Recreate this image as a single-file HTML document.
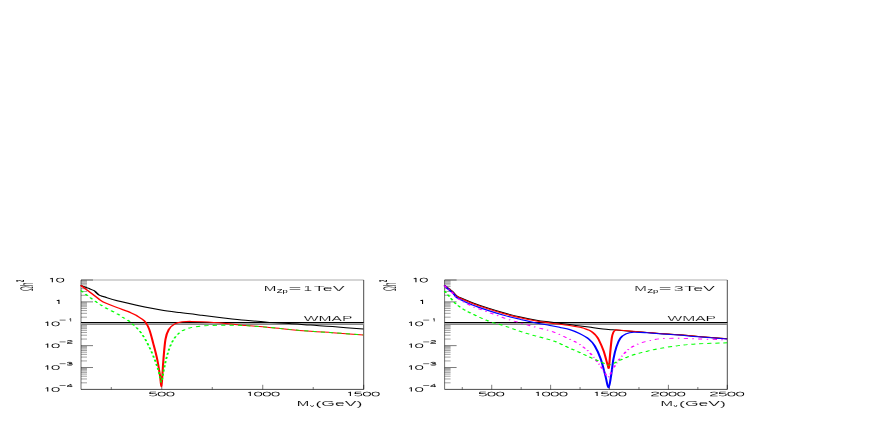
<!DOCTYPE html>
<html><head><meta charset="utf-8"><title>plot</title>
<style>html,body{margin:0;padding:0;background:#fff;}body{width:872px;height:436px;overflow:hidden;position:relative;font-family:"Liberation Sans",sans-serif;}</style></head>
<body>
<svg width="872" height="436" viewBox="0 0 872 436" style="position:absolute;left:0;top:0">
<rect width="872" height="436" fill="#fff"/>
<g transform="scale(1,0.5)" font-family="Liberation Sans, sans-serif" fill="#222">
<line x1="81.00" y1="560.00" x2="93.00" y2="560.00" stroke="#000" stroke-width="0.7"/>
<line x1="81.00" y1="590.59" x2="87.00" y2="590.59" stroke="#000" stroke-width="0.5"/>
<line x1="81.00" y1="582.88" x2="87.00" y2="582.88" stroke="#000" stroke-width="0.5"/>
<line x1="81.00" y1="577.41" x2="87.00" y2="577.41" stroke="#000" stroke-width="0.5"/>
<line x1="81.00" y1="573.17" x2="87.00" y2="573.17" stroke="#000" stroke-width="0.5"/>
<line x1="81.00" y1="569.71" x2="87.00" y2="569.71" stroke="#000" stroke-width="0.5"/>
<line x1="81.00" y1="566.78" x2="87.00" y2="566.78" stroke="#000" stroke-width="0.5"/>
<line x1="81.00" y1="564.24" x2="87.00" y2="564.24" stroke="#000" stroke-width="0.5"/>
<line x1="81.00" y1="562.00" x2="87.00" y2="562.00" stroke="#000" stroke-width="0.5"/>
<line x1="81.00" y1="603.76" x2="93.00" y2="603.76" stroke="#000" stroke-width="0.7"/>
<line x1="81.00" y1="634.35" x2="87.00" y2="634.35" stroke="#000" stroke-width="0.5"/>
<line x1="81.00" y1="626.64" x2="87.00" y2="626.64" stroke="#000" stroke-width="0.5"/>
<line x1="81.00" y1="621.17" x2="87.00" y2="621.17" stroke="#000" stroke-width="0.5"/>
<line x1="81.00" y1="616.93" x2="87.00" y2="616.93" stroke="#000" stroke-width="0.5"/>
<line x1="81.00" y1="613.47" x2="87.00" y2="613.47" stroke="#000" stroke-width="0.5"/>
<line x1="81.00" y1="610.54" x2="87.00" y2="610.54" stroke="#000" stroke-width="0.5"/>
<line x1="81.00" y1="608.00" x2="87.00" y2="608.00" stroke="#000" stroke-width="0.5"/>
<line x1="81.00" y1="605.76" x2="87.00" y2="605.76" stroke="#000" stroke-width="0.5"/>
<line x1="81.00" y1="647.52" x2="93.00" y2="647.52" stroke="#000" stroke-width="0.7"/>
<line x1="81.00" y1="678.11" x2="87.00" y2="678.11" stroke="#000" stroke-width="0.5"/>
<line x1="81.00" y1="670.40" x2="87.00" y2="670.40" stroke="#000" stroke-width="0.5"/>
<line x1="81.00" y1="664.93" x2="87.00" y2="664.93" stroke="#000" stroke-width="0.5"/>
<line x1="81.00" y1="660.69" x2="87.00" y2="660.69" stroke="#000" stroke-width="0.5"/>
<line x1="81.00" y1="657.23" x2="87.00" y2="657.23" stroke="#000" stroke-width="0.5"/>
<line x1="81.00" y1="654.30" x2="87.00" y2="654.30" stroke="#000" stroke-width="0.5"/>
<line x1="81.00" y1="651.76" x2="87.00" y2="651.76" stroke="#000" stroke-width="0.5"/>
<line x1="81.00" y1="649.52" x2="87.00" y2="649.52" stroke="#000" stroke-width="0.5"/>
<line x1="81.00" y1="691.28" x2="93.00" y2="691.28" stroke="#000" stroke-width="0.7"/>
<line x1="81.00" y1="721.87" x2="87.00" y2="721.87" stroke="#000" stroke-width="0.5"/>
<line x1="81.00" y1="714.16" x2="87.00" y2="714.16" stroke="#000" stroke-width="0.5"/>
<line x1="81.00" y1="708.69" x2="87.00" y2="708.69" stroke="#000" stroke-width="0.5"/>
<line x1="81.00" y1="704.45" x2="87.00" y2="704.45" stroke="#000" stroke-width="0.5"/>
<line x1="81.00" y1="700.99" x2="87.00" y2="700.99" stroke="#000" stroke-width="0.5"/>
<line x1="81.00" y1="698.06" x2="87.00" y2="698.06" stroke="#000" stroke-width="0.5"/>
<line x1="81.00" y1="695.52" x2="87.00" y2="695.52" stroke="#000" stroke-width="0.5"/>
<line x1="81.00" y1="693.28" x2="87.00" y2="693.28" stroke="#000" stroke-width="0.5"/>
<line x1="81.00" y1="735.04" x2="93.00" y2="735.04" stroke="#000" stroke-width="0.7"/>
<line x1="81.00" y1="765.63" x2="87.00" y2="765.63" stroke="#000" stroke-width="0.5"/>
<line x1="81.00" y1="757.92" x2="87.00" y2="757.92" stroke="#000" stroke-width="0.5"/>
<line x1="81.00" y1="752.45" x2="87.00" y2="752.45" stroke="#000" stroke-width="0.5"/>
<line x1="81.00" y1="748.21" x2="87.00" y2="748.21" stroke="#000" stroke-width="0.5"/>
<line x1="81.00" y1="744.75" x2="87.00" y2="744.75" stroke="#000" stroke-width="0.5"/>
<line x1="81.00" y1="741.82" x2="87.00" y2="741.82" stroke="#000" stroke-width="0.5"/>
<line x1="81.00" y1="739.28" x2="87.00" y2="739.28" stroke="#000" stroke-width="0.5"/>
<line x1="81.00" y1="737.04" x2="87.00" y2="737.04" stroke="#000" stroke-width="0.5"/>
<line x1="111.29" y1="778.80" x2="111.29" y2="774.00" stroke="#000" stroke-width="0.7"/>
<line x1="161.77" y1="778.80" x2="161.77" y2="769.60" stroke="#000" stroke-width="0.7"/>
<line x1="212.25" y1="778.80" x2="212.25" y2="774.00" stroke="#000" stroke-width="0.7"/>
<line x1="262.74" y1="778.80" x2="262.74" y2="769.60" stroke="#000" stroke-width="0.7"/>
<line x1="313.22" y1="778.80" x2="313.22" y2="774.00" stroke="#000" stroke-width="0.7"/>
<line x1="363.70" y1="778.80" x2="363.70" y2="769.60" stroke="#000" stroke-width="0.7"/>
<line x1="81.00" y1="560.00" x2="363.70" y2="560.00" stroke="#000" stroke-width="0.45"/>
<line x1="81.00" y1="778.80" x2="363.70" y2="778.80" stroke="#000" stroke-width="0.95"/>
<line x1="81.00" y1="560.00" x2="81.00" y2="778.80" stroke="#000" stroke-width="0.75"/>
<line x1="363.70" y1="560.00" x2="363.70" y2="778.80" stroke="#000" stroke-width="0.95"/>
<line x1="444.60" y1="560.00" x2="456.60" y2="560.00" stroke="#000" stroke-width="0.7"/>
<line x1="444.60" y1="590.59" x2="450.60" y2="590.59" stroke="#000" stroke-width="0.5"/>
<line x1="444.60" y1="582.88" x2="450.60" y2="582.88" stroke="#000" stroke-width="0.5"/>
<line x1="444.60" y1="577.41" x2="450.60" y2="577.41" stroke="#000" stroke-width="0.5"/>
<line x1="444.60" y1="573.17" x2="450.60" y2="573.17" stroke="#000" stroke-width="0.5"/>
<line x1="444.60" y1="569.71" x2="450.60" y2="569.71" stroke="#000" stroke-width="0.5"/>
<line x1="444.60" y1="566.78" x2="450.60" y2="566.78" stroke="#000" stroke-width="0.5"/>
<line x1="444.60" y1="564.24" x2="450.60" y2="564.24" stroke="#000" stroke-width="0.5"/>
<line x1="444.60" y1="562.00" x2="450.60" y2="562.00" stroke="#000" stroke-width="0.5"/>
<line x1="444.60" y1="603.76" x2="456.60" y2="603.76" stroke="#000" stroke-width="0.7"/>
<line x1="444.60" y1="634.35" x2="450.60" y2="634.35" stroke="#000" stroke-width="0.5"/>
<line x1="444.60" y1="626.64" x2="450.60" y2="626.64" stroke="#000" stroke-width="0.5"/>
<line x1="444.60" y1="621.17" x2="450.60" y2="621.17" stroke="#000" stroke-width="0.5"/>
<line x1="444.60" y1="616.93" x2="450.60" y2="616.93" stroke="#000" stroke-width="0.5"/>
<line x1="444.60" y1="613.47" x2="450.60" y2="613.47" stroke="#000" stroke-width="0.5"/>
<line x1="444.60" y1="610.54" x2="450.60" y2="610.54" stroke="#000" stroke-width="0.5"/>
<line x1="444.60" y1="608.00" x2="450.60" y2="608.00" stroke="#000" stroke-width="0.5"/>
<line x1="444.60" y1="605.76" x2="450.60" y2="605.76" stroke="#000" stroke-width="0.5"/>
<line x1="444.60" y1="647.52" x2="456.60" y2="647.52" stroke="#000" stroke-width="0.7"/>
<line x1="444.60" y1="678.11" x2="450.60" y2="678.11" stroke="#000" stroke-width="0.5"/>
<line x1="444.60" y1="670.40" x2="450.60" y2="670.40" stroke="#000" stroke-width="0.5"/>
<line x1="444.60" y1="664.93" x2="450.60" y2="664.93" stroke="#000" stroke-width="0.5"/>
<line x1="444.60" y1="660.69" x2="450.60" y2="660.69" stroke="#000" stroke-width="0.5"/>
<line x1="444.60" y1="657.23" x2="450.60" y2="657.23" stroke="#000" stroke-width="0.5"/>
<line x1="444.60" y1="654.30" x2="450.60" y2="654.30" stroke="#000" stroke-width="0.5"/>
<line x1="444.60" y1="651.76" x2="450.60" y2="651.76" stroke="#000" stroke-width="0.5"/>
<line x1="444.60" y1="649.52" x2="450.60" y2="649.52" stroke="#000" stroke-width="0.5"/>
<line x1="444.60" y1="691.28" x2="456.60" y2="691.28" stroke="#000" stroke-width="0.7"/>
<line x1="444.60" y1="721.87" x2="450.60" y2="721.87" stroke="#000" stroke-width="0.5"/>
<line x1="444.60" y1="714.16" x2="450.60" y2="714.16" stroke="#000" stroke-width="0.5"/>
<line x1="444.60" y1="708.69" x2="450.60" y2="708.69" stroke="#000" stroke-width="0.5"/>
<line x1="444.60" y1="704.45" x2="450.60" y2="704.45" stroke="#000" stroke-width="0.5"/>
<line x1="444.60" y1="700.99" x2="450.60" y2="700.99" stroke="#000" stroke-width="0.5"/>
<line x1="444.60" y1="698.06" x2="450.60" y2="698.06" stroke="#000" stroke-width="0.5"/>
<line x1="444.60" y1="695.52" x2="450.60" y2="695.52" stroke="#000" stroke-width="0.5"/>
<line x1="444.60" y1="693.28" x2="450.60" y2="693.28" stroke="#000" stroke-width="0.5"/>
<line x1="444.60" y1="735.04" x2="456.60" y2="735.04" stroke="#000" stroke-width="0.7"/>
<line x1="444.60" y1="765.63" x2="450.60" y2="765.63" stroke="#000" stroke-width="0.5"/>
<line x1="444.60" y1="757.92" x2="450.60" y2="757.92" stroke="#000" stroke-width="0.5"/>
<line x1="444.60" y1="752.45" x2="450.60" y2="752.45" stroke="#000" stroke-width="0.5"/>
<line x1="444.60" y1="748.21" x2="450.60" y2="748.21" stroke="#000" stroke-width="0.5"/>
<line x1="444.60" y1="744.75" x2="450.60" y2="744.75" stroke="#000" stroke-width="0.5"/>
<line x1="444.60" y1="741.82" x2="450.60" y2="741.82" stroke="#000" stroke-width="0.5"/>
<line x1="444.60" y1="739.28" x2="450.60" y2="739.28" stroke="#000" stroke-width="0.5"/>
<line x1="444.60" y1="737.04" x2="450.60" y2="737.04" stroke="#000" stroke-width="0.5"/>
<line x1="462.27" y1="778.80" x2="462.27" y2="774.00" stroke="#000" stroke-width="0.7"/>
<line x1="491.72" y1="778.80" x2="491.72" y2="769.60" stroke="#000" stroke-width="0.7"/>
<line x1="521.16" y1="778.80" x2="521.16" y2="774.00" stroke="#000" stroke-width="0.7"/>
<line x1="550.61" y1="778.80" x2="550.61" y2="769.60" stroke="#000" stroke-width="0.7"/>
<line x1="580.06" y1="778.80" x2="580.06" y2="774.00" stroke="#000" stroke-width="0.7"/>
<line x1="609.51" y1="778.80" x2="609.51" y2="769.60" stroke="#000" stroke-width="0.7"/>
<line x1="638.96" y1="778.80" x2="638.96" y2="774.00" stroke="#000" stroke-width="0.7"/>
<line x1="668.40" y1="778.80" x2="668.40" y2="769.60" stroke="#000" stroke-width="0.7"/>
<line x1="697.85" y1="778.80" x2="697.85" y2="774.00" stroke="#000" stroke-width="0.7"/>
<line x1="727.30" y1="778.80" x2="727.30" y2="769.60" stroke="#000" stroke-width="0.7"/>
<line x1="444.60" y1="560.00" x2="727.30" y2="560.00" stroke="#000" stroke-width="0.45"/>
<line x1="444.60" y1="778.80" x2="727.30" y2="778.80" stroke="#000" stroke-width="0.95"/>
<line x1="444.60" y1="560.00" x2="444.60" y2="778.80" stroke="#000" stroke-width="0.75"/>
<line x1="727.30" y1="560.00" x2="727.30" y2="778.80" stroke="#000" stroke-width="0.95"/>
<rect x="81.00" y="644.00" width="282.70" height="2.00" fill="#000"/>
<rect x="81.00" y="646.00" width="282.70" height="2.00" fill="#aaa"/>
<rect x="81.00" y="648.00" width="282.70" height="2.00" fill="#888"/>
<rect x="444.60" y="644.00" width="282.70" height="2.00" fill="#000"/>
<rect x="444.60" y="646.00" width="282.70" height="2.00" fill="#aaa"/>
<rect x="444.60" y="648.00" width="282.70" height="2.00" fill="#888"/>
<path d="M80.80,570.80 C82.00,571.73 85.82,574.70 88.00,576.40 C90.18,578.10 92.50,579.50 93.90,581.00 C95.30,582.50 95.62,584.00 96.40,585.40 C97.18,586.80 97.92,588.40 98.60,589.40 C99.28,590.40 99.60,590.70 100.50,591.40 C101.40,592.10 101.20,591.90 104.00,593.60 C106.80,595.30 110.50,598.20 117.30,601.60 C124.10,605.00 137.52,610.93 144.80,614.00 C152.08,617.07 155.13,618.13 161.00,620.00 C166.87,621.87 173.20,623.43 180.00,625.20 C186.80,626.97 194.53,628.83 201.80,630.60 C209.07,632.37 216.33,634.13 223.60,635.80 C230.87,637.47 238.13,639.17 245.40,640.60 C252.67,642.03 259.93,643.33 267.20,644.40 C274.47,645.47 281.73,646.03 289.00,647.00 C296.27,647.97 303.55,649.17 310.80,650.20 C318.05,651.23 323.73,651.90 332.50,653.20 C341.27,654.50 358.25,657.20 363.40,658.00" fill="none" stroke="#000" stroke-width="2.0" stroke-linejoin="round"/>
<path d="M80.80,570.80 C82.00,572.60 85.37,577.63 88.00,581.60 C90.63,585.57 94.58,591.53 96.60,594.60 C98.62,597.67 98.95,598.40 100.10,600.00 C101.25,601.60 102.23,602.90 103.50,604.20 C104.77,605.50 105.40,605.93 107.70,607.80 C110.00,609.67 113.42,612.43 117.30,615.40 C121.18,618.37 127.72,622.90 131.00,625.60 C134.28,628.30 135.25,629.60 137.00,631.60 C138.75,633.60 140.10,635.50 141.50,637.60 C142.90,639.70 144.10,640.63 145.40,644.20 C146.70,647.77 148.00,651.97 149.30,659.00 C150.60,666.03 151.90,676.63 153.20,686.40 C154.50,696.17 155.95,706.57 157.10,717.60 C158.25,728.63 159.38,743.27 160.10,752.60 C160.82,761.93 161.03,773.60 161.40,773.60 C161.77,773.60 161.95,761.93 162.30,752.60 C162.65,743.27 162.97,729.93 163.50,717.60 C164.03,705.27 164.62,688.37 165.50,678.60 C166.38,668.83 167.28,664.10 168.80,659.00 C170.32,653.90 172.33,650.57 174.60,648.00 C176.87,645.43 179.68,644.47 182.40,643.60 C185.12,642.73 187.67,642.80 190.90,642.80 C194.13,642.80 196.35,642.97 201.80,643.60 C207.25,644.23 216.33,645.37 223.60,646.60 C230.87,647.83 238.13,649.70 245.40,651.00 C252.67,652.30 259.93,653.10 267.20,654.40 C274.47,655.70 281.73,657.47 289.00,658.80 C296.27,660.13 303.55,661.30 310.80,662.40 C318.05,663.50 323.73,664.17 332.50,665.40 C341.27,666.63 358.25,669.07 363.40,669.80" fill="none" stroke="#ff0000" stroke-width="2.1" stroke-linejoin="round"/>
<path d="M80.80,581.20 C82.00,583.00 85.37,588.13 88.00,592.00 C90.63,595.87 93.77,600.57 96.60,604.40 C99.43,608.23 101.55,611.10 105.00,615.00 C108.45,618.90 114.47,624.70 117.30,627.80 C120.13,630.90 119.60,630.50 122.00,633.60 C124.40,636.70 128.45,640.87 131.70,646.40 C134.95,651.93 138.57,658.87 141.50,666.80 C144.43,674.73 147.03,684.90 149.30,694.00 C151.57,703.10 153.55,713.40 155.10,721.40 C156.65,729.40 157.75,736.23 158.60,742.00 C159.45,747.77 159.75,752.27 160.20,756.00 C160.65,759.73 160.93,764.40 161.30,764.40 C161.67,764.40 162.02,759.73 162.40,756.00 C162.78,752.27 162.87,749.07 163.60,742.00 C164.33,734.93 165.62,722.23 166.80,713.60 C167.98,704.97 169.07,697.33 170.70,690.20 C172.33,683.07 174.32,675.90 176.60,670.80 C178.88,665.70 181.48,662.40 184.40,659.60 C187.32,656.80 190.20,655.40 194.10,654.00 C198.00,652.60 202.88,651.77 207.80,651.20 C212.72,650.63 218.78,650.70 223.60,650.60 C228.42,650.50 233.07,650.50 236.70,650.60 C240.33,650.70 240.32,650.57 245.40,651.20 C250.48,651.83 259.93,653.13 267.20,654.40 C274.47,655.67 281.73,657.47 289.00,658.80 C296.27,660.13 303.55,661.30 310.80,662.40 C318.05,663.50 323.73,664.17 332.50,665.40 C341.27,666.63 358.25,669.07 363.40,669.80" fill="none" stroke="#00ff00" stroke-width="1.9" stroke-linejoin="round" stroke-dasharray="4.2 4.2"/>
<path d="M444.50,571.20 C445.25,572.33 447.60,575.83 449.00,578.00 C450.40,580.17 451.72,582.00 452.90,584.20 C454.08,586.40 454.92,589.37 456.10,591.20 C457.28,593.03 457.33,592.87 460.00,595.20 C462.67,597.53 467.40,601.67 472.10,605.20 C476.80,608.73 482.83,612.93 488.20,616.40 C493.57,619.87 498.95,623.07 504.30,626.00 C509.65,628.93 514.95,631.60 520.30,634.00 C525.65,636.40 531.45,638.70 536.40,640.40 C541.35,642.10 544.48,642.73 550.00,644.20 C555.52,645.67 563.00,647.53 569.50,649.20 C576.00,650.87 582.52,652.57 589.00,654.20 C595.48,655.83 603.87,658.00 608.40,659.00 C612.93,660.00 611.32,659.43 616.20,660.20 C621.08,660.97 630.57,662.50 637.70,663.60 C644.83,664.70 652.22,665.83 659.00,666.80 C665.78,667.77 671.90,668.40 678.40,669.40 C684.90,670.40 689.88,671.47 698.00,672.80 C706.12,674.13 722.25,676.63 727.10,677.40" fill="none" stroke="#000" stroke-width="2.0" stroke-linejoin="round"/>
<path d="M444.50,571.20 C445.25,572.43 447.60,576.33 449.00,578.60 C450.40,580.87 451.72,582.53 452.90,584.80 C454.08,587.07 454.92,590.27 456.10,592.20 C457.28,594.13 457.33,594.00 460.00,596.40 C462.67,598.80 467.40,603.03 472.10,606.60 C476.80,610.17 482.83,614.30 488.20,617.80 C493.57,621.30 498.95,624.63 504.30,627.60 C509.65,630.57 514.95,633.20 520.30,635.60 C525.65,638.00 531.45,640.30 536.40,642.00 C541.35,643.70 544.48,644.33 550.00,645.80 C555.52,647.27 564.50,649.37 569.50,650.80 C574.50,652.23 577.40,653.30 580.00,654.40 C582.60,655.50 583.52,656.33 585.10,657.40 C586.68,658.47 588.20,659.50 589.50,660.80 C590.80,662.10 591.82,663.47 592.90,665.20 C593.98,666.93 595.03,668.87 596.00,671.20 C596.97,673.53 597.43,674.10 598.70,679.20 C599.97,684.30 602.13,693.50 603.60,701.80 C605.07,710.10 606.62,723.43 607.50,729.00 C608.38,734.57 608.43,739.37 608.90,735.20 C609.37,731.03 609.82,713.87 610.30,704.00 C610.78,694.13 611.27,682.67 611.80,676.00 C612.33,669.33 612.88,666.60 613.50,664.00 C614.12,661.40 614.75,661.07 615.50,660.40 C616.25,659.73 614.30,659.47 618.00,660.00 C621.70,660.53 630.87,662.47 637.70,663.60 C644.53,664.73 652.22,665.83 659.00,666.80 C665.78,667.77 671.90,668.40 678.40,669.40 C684.90,670.40 689.88,671.47 698.00,672.80 C706.12,674.13 722.25,676.63 727.10,677.40" fill="none" stroke="#ff0000" stroke-width="2.1" stroke-linejoin="round"/>
<path d="M444.50,571.20 C445.25,572.60 447.60,577.13 449.00,579.60 C450.40,582.07 451.72,583.63 452.90,586.00 C454.08,588.37 454.92,591.70 456.10,593.80 C457.28,595.90 457.33,595.93 460.00,598.60 C462.67,601.27 467.40,606.07 472.10,609.80 C476.80,613.53 482.83,617.50 488.20,621.00 C493.57,624.50 498.95,627.83 504.30,630.80 C509.65,633.77 514.95,636.23 520.30,638.80 C525.65,641.37 531.45,644.20 536.40,646.20 C541.35,648.20 546.07,649.37 550.00,650.80 C553.93,652.23 556.75,653.43 560.00,654.80 C563.25,656.17 566.30,657.00 569.50,659.00 C572.70,661.00 575.95,663.57 579.20,666.80 C582.45,670.03 586.40,674.20 589.00,678.40 C591.60,682.60 592.87,685.50 594.80,692.00 C596.73,698.50 598.82,707.33 600.60,717.40 C602.38,727.47 604.18,742.63 605.50,752.40 C606.82,762.17 607.58,776.00 608.50,776.00 C609.42,776.00 610.17,762.17 611.00,752.40 C611.83,742.63 612.60,727.13 613.50,717.40 C614.40,707.67 615.27,700.80 616.40,694.00 C617.53,687.20 618.70,681.00 620.30,676.60 C621.90,672.20 623.75,669.63 626.00,667.60 C628.25,665.57 630.23,664.73 633.80,664.40 C637.37,664.07 643.20,665.07 647.40,665.60 C651.60,666.13 653.83,666.83 659.00,667.60 C664.17,668.37 671.90,669.20 678.40,670.20 C684.90,671.20 689.88,672.27 698.00,673.60 C706.12,674.93 722.25,677.43 727.10,678.20" fill="none" stroke="#0000ff" stroke-width="2.1" stroke-linejoin="round"/>
<path d="M444.50,571.20 C445.25,572.67 447.60,577.40 449.00,580.00 C450.40,582.60 451.72,584.40 452.90,586.80 C454.08,589.20 454.92,592.27 456.10,594.40 C457.28,596.53 457.33,596.60 460.00,599.60 C462.67,602.60 467.40,608.30 472.10,612.40 C476.80,616.50 482.83,620.23 488.20,624.20 C493.57,628.17 498.95,632.60 504.30,636.20 C509.65,639.80 514.95,642.70 520.30,645.80 C525.65,648.90 531.05,651.90 536.40,654.80 C541.75,657.70 546.88,659.27 552.40,663.20 C557.92,667.13 565.03,674.23 569.50,678.40 C573.97,682.57 575.95,683.97 579.20,688.20 C582.45,692.43 585.75,697.30 589.00,703.80 C592.25,710.30 596.12,720.40 598.70,727.20 C601.28,734.00 602.92,740.07 604.50,744.60 C606.08,749.13 606.90,755.03 608.20,754.40 C609.50,753.77 610.63,746.30 612.30,740.80 C613.97,735.30 615.60,728.23 618.20,721.40 C620.80,714.57 624.65,705.33 627.90,699.80 C631.15,694.27 634.45,691.10 637.70,688.20 C640.95,685.30 643.85,684.13 647.40,682.40 C650.95,680.67 653.83,678.77 659.00,677.80 C664.17,676.83 671.90,676.60 678.40,676.60 C684.90,676.60 689.88,677.27 698.00,677.80 C706.12,678.33 722.25,679.47 727.10,679.80" fill="none" stroke="#ff00ff" stroke-width="1.9" stroke-linejoin="round" stroke-dasharray="4.2 4.4 1.5 4.4"/>
<path d="M444.50,582.00 C445.35,583.97 447.67,589.43 449.60,593.80 C451.53,598.17 453.87,604.17 456.10,608.20 C458.33,612.23 460.33,614.77 463.00,618.00 C465.67,621.23 467.90,623.60 472.10,627.60 C476.30,631.60 482.83,638.00 488.20,642.00 C493.57,646.00 498.95,648.13 504.30,651.60 C509.65,655.07 514.95,659.33 520.30,662.80 C525.65,666.27 531.05,669.33 536.40,672.40 C541.75,675.47 546.88,677.27 552.40,681.20 C557.92,685.13 563.40,690.60 569.50,696.00 C575.60,701.40 584.13,709.27 589.00,713.60 C593.87,717.93 595.78,719.43 598.70,722.00 C601.62,724.57 604.85,727.63 606.50,729.00 C608.15,730.37 607.63,730.30 608.60,730.20 C609.57,730.10 610.70,729.77 612.30,728.40 C613.90,727.03 615.60,724.47 618.20,722.00 C620.80,719.53 624.65,716.07 627.90,713.60 C631.15,711.13 634.45,709.07 637.70,707.20 C640.95,705.33 643.85,704.07 647.40,702.40 C650.95,700.73 653.83,699.07 659.00,697.20 C664.17,695.33 671.90,692.77 678.40,691.20 C684.90,689.63 689.88,688.73 698.00,687.80 C706.12,686.87 722.25,685.97 727.10,685.60" fill="none" stroke="#00ff00" stroke-width="1.9" stroke-linejoin="round" stroke-dasharray="4.2 3.8"/>
</g>
<g transform="scale(1,0.5)" font-family="Liberation Sans, sans-serif" fill="#000" stroke="#fff" stroke-width="0.25" opacity="0.995" style="will-change:opacity">
<path d="M50.10,557.90 L52.34,556.10 L52.34,564.30" fill="none" stroke="#000" stroke-width="1.1" stroke-linejoin="round"/>
<path d="M60.20,556.10 C57.40,556.10 56.70,558.15 56.70,560.20 C56.70,562.25 57.40,564.30 60.20,564.30 C63.00,564.30 63.70,562.25 63.70,560.20 C63.70,558.15 63.00,556.10 60.20,556.10 Z" fill="none" stroke="#000" stroke-width="1.1" stroke-linejoin="round"/>
<path d="M56.70,601.66 L58.94,599.86 L58.94,608.06" fill="none" stroke="#000" stroke-width="1.1" stroke-linejoin="round"/>
<path d="M45.50,645.42 L47.74,643.62 L47.74,651.82" fill="none" stroke="#000" stroke-width="1.1" stroke-linejoin="round"/>
<path d="M55.60,643.62 C52.80,643.62 52.10,645.67 52.10,647.72 C52.10,649.77 52.80,651.82 55.60,651.82 C58.40,651.82 59.10,649.77 59.10,647.72 C59.10,645.67 58.40,643.62 55.60,643.62 Z" fill="none" stroke="#000" stroke-width="1.1" stroke-linejoin="round"/>
<path d="M59.60,640.12 L65.60,640.12" fill="none" stroke="#000" stroke-width="1.1" stroke-linejoin="round"/>
<path d="M69.44,638.40 L70.66,637.12 L70.66,642.92" fill="none" stroke="#000" stroke-width="1.0" stroke-linejoin="round"/>
<path d="M45.50,689.18 L47.74,687.38 L47.74,695.58" fill="none" stroke="#000" stroke-width="1.1" stroke-linejoin="round"/>
<path d="M55.60,687.38 C52.80,687.38 52.10,689.43 52.10,691.48 C52.10,693.53 52.80,695.58 55.60,695.58 C58.40,695.58 59.10,693.53 59.10,691.48 C59.10,689.43 58.40,687.38 55.60,687.38 Z" fill="none" stroke="#000" stroke-width="1.1" stroke-linejoin="round"/>
<path d="M59.60,683.88 L65.60,683.88" fill="none" stroke="#000" stroke-width="1.1" stroke-linejoin="round"/>
<path d="M67.11,682.33 C67.27,680.59 72.29,680.42 72.29,682.45 C72.29,684.07 67.00,684.48 67.00,686.68 L72.40,686.68" fill="none" stroke="#000" stroke-width="1.0" stroke-linejoin="round"/>
<path d="M45.50,732.94 L47.74,731.14 L47.74,739.34" fill="none" stroke="#000" stroke-width="1.1" stroke-linejoin="round"/>
<path d="M55.60,731.14 C52.80,731.14 52.10,733.19 52.10,735.24 C52.10,737.29 52.80,739.34 55.60,739.34 C58.40,739.34 59.10,737.29 59.10,735.24 C59.10,733.19 58.40,731.14 55.60,731.14 Z" fill="none" stroke="#000" stroke-width="1.1" stroke-linejoin="round"/>
<path d="M59.60,727.64 L65.60,727.64" fill="none" stroke="#000" stroke-width="1.1" stroke-linejoin="round"/>
<path d="M67.11,725.51 C68.08,724.29 72.24,724.29 72.24,726.09 C72.24,727.19 70.24,727.37 68.89,727.37 C70.24,727.37 72.40,727.54 72.40,728.93 C72.40,730.79 68.08,730.79 67.00,729.45" fill="none" stroke="#000" stroke-width="1.0" stroke-linejoin="round"/>
<path d="M45.50,776.70 L47.74,774.90 L47.74,783.10" fill="none" stroke="#000" stroke-width="1.1" stroke-linejoin="round"/>
<path d="M55.60,774.90 C52.80,774.90 52.10,776.95 52.10,779.00 C52.10,781.05 52.80,783.10 55.60,783.10 C58.40,783.10 59.10,781.05 59.10,779.00 C59.10,776.95 58.40,774.90 55.60,774.90 Z" fill="none" stroke="#000" stroke-width="1.1" stroke-linejoin="round"/>
<path d="M59.60,771.40 L65.60,771.40" fill="none" stroke="#000" stroke-width="1.1" stroke-linejoin="round"/>
<path d="M71.00,774.20 L71.00,768.40 L67.00,772.58 L72.40,772.58" fill="none" stroke="#000" stroke-width="1.0" stroke-linejoin="round"/>
<text transform="translate(32.70,582.00) rotate(-90)" font-size="17.9" textLength="17" lengthAdjust="spacingAndGlyphs">Ωh</text>
<text transform="translate(23.80,564.00) rotate(-90)" font-size="10" font-weight="bold" textLength="4.2" lengthAdjust="spacingAndGlyphs" stroke="none">2</text>
<text x="303.80" y="642.60" font-size="14.8" textLength="48.60" lengthAdjust="spacingAndGlyphs">WMAP</text>
<path d="M413.70,557.90 L415.94,556.10 L415.94,564.30" fill="none" stroke="#000" stroke-width="1.1" stroke-linejoin="round"/>
<path d="M423.80,556.10 C421.00,556.10 420.30,558.15 420.30,560.20 C420.30,562.25 421.00,564.30 423.80,564.30 C426.60,564.30 427.30,562.25 427.30,560.20 C427.30,558.15 426.60,556.10 423.80,556.10 Z" fill="none" stroke="#000" stroke-width="1.1" stroke-linejoin="round"/>
<path d="M420.30,601.66 L422.54,599.86 L422.54,608.06" fill="none" stroke="#000" stroke-width="1.1" stroke-linejoin="round"/>
<path d="M409.10,645.42 L411.34,643.62 L411.34,651.82" fill="none" stroke="#000" stroke-width="1.1" stroke-linejoin="round"/>
<path d="M419.20,643.62 C416.40,643.62 415.70,645.67 415.70,647.72 C415.70,649.77 416.40,651.82 419.20,651.82 C422.00,651.82 422.70,649.77 422.70,647.72 C422.70,645.67 422.00,643.62 419.20,643.62 Z" fill="none" stroke="#000" stroke-width="1.1" stroke-linejoin="round"/>
<path d="M423.20,640.12 L429.20,640.12" fill="none" stroke="#000" stroke-width="1.1" stroke-linejoin="round"/>
<path d="M433.04,638.40 L434.26,637.12 L434.26,642.92" fill="none" stroke="#000" stroke-width="1.0" stroke-linejoin="round"/>
<path d="M409.10,689.18 L411.34,687.38 L411.34,695.58" fill="none" stroke="#000" stroke-width="1.1" stroke-linejoin="round"/>
<path d="M419.20,687.38 C416.40,687.38 415.70,689.43 415.70,691.48 C415.70,693.53 416.40,695.58 419.20,695.58 C422.00,695.58 422.70,693.53 422.70,691.48 C422.70,689.43 422.00,687.38 419.20,687.38 Z" fill="none" stroke="#000" stroke-width="1.1" stroke-linejoin="round"/>
<path d="M423.20,683.88 L429.20,683.88" fill="none" stroke="#000" stroke-width="1.1" stroke-linejoin="round"/>
<path d="M430.71,682.33 C430.87,680.59 435.89,680.42 435.89,682.45 C435.89,684.07 430.60,684.48 430.60,686.68 L436.00,686.68" fill="none" stroke="#000" stroke-width="1.0" stroke-linejoin="round"/>
<path d="M409.10,732.94 L411.34,731.14 L411.34,739.34" fill="none" stroke="#000" stroke-width="1.1" stroke-linejoin="round"/>
<path d="M419.20,731.14 C416.40,731.14 415.70,733.19 415.70,735.24 C415.70,737.29 416.40,739.34 419.20,739.34 C422.00,739.34 422.70,737.29 422.70,735.24 C422.70,733.19 422.00,731.14 419.20,731.14 Z" fill="none" stroke="#000" stroke-width="1.1" stroke-linejoin="round"/>
<path d="M423.20,727.64 L429.20,727.64" fill="none" stroke="#000" stroke-width="1.1" stroke-linejoin="round"/>
<path d="M430.71,725.51 C431.68,724.29 435.84,724.29 435.84,726.09 C435.84,727.19 433.84,727.37 432.49,727.37 C433.84,727.37 436.00,727.54 436.00,728.93 C436.00,730.79 431.68,730.79 430.60,729.45" fill="none" stroke="#000" stroke-width="1.0" stroke-linejoin="round"/>
<path d="M409.10,776.70 L411.34,774.90 L411.34,783.10" fill="none" stroke="#000" stroke-width="1.1" stroke-linejoin="round"/>
<path d="M419.20,774.90 C416.40,774.90 415.70,776.95 415.70,779.00 C415.70,781.05 416.40,783.10 419.20,783.10 C422.00,783.10 422.70,781.05 422.70,779.00 C422.70,776.95 422.00,774.90 419.20,774.90 Z" fill="none" stroke="#000" stroke-width="1.1" stroke-linejoin="round"/>
<path d="M423.20,771.40 L429.20,771.40" fill="none" stroke="#000" stroke-width="1.1" stroke-linejoin="round"/>
<path d="M434.60,774.20 L434.60,768.40 L430.60,772.58 L436.00,772.58" fill="none" stroke="#000" stroke-width="1.0" stroke-linejoin="round"/>
<text transform="translate(396.30,582.00) rotate(-90)" font-size="17.9" textLength="17" lengthAdjust="spacingAndGlyphs">Ωh</text>
<text transform="translate(387.40,564.00) rotate(-90)" font-size="10" font-weight="bold" textLength="4.2" lengthAdjust="spacingAndGlyphs" stroke="none">2</text>
<text x="667.40" y="642.60" font-size="14.8" textLength="48.60" lengthAdjust="spacingAndGlyphs">WMAP</text>
<path d="M156.01,783.90 L150.20,783.90 L149.85,787.51 C151.60,786.36 156.50,786.36 156.50,789.48 C156.50,792.59 150.90,792.59 149.50,790.71" fill="none" stroke="#000" stroke-width="1.1" stroke-linejoin="round"/>
<path d="M161.70,783.90 C158.90,783.90 158.20,785.95 158.20,788.00 C158.20,790.05 158.90,792.10 161.70,792.10 C164.50,792.10 165.20,790.05 165.20,788.00 C165.20,785.95 164.50,783.90 161.70,783.90 Z" fill="none" stroke="#000" stroke-width="1.1" stroke-linejoin="round"/>
<path d="M170.40,783.90 C167.60,783.90 166.90,785.95 166.90,788.00 C166.90,790.05 167.60,792.10 170.40,792.10 C173.20,792.10 173.90,790.05 173.90,788.00 C173.90,785.95 173.20,783.90 170.40,783.90 Z" fill="none" stroke="#000" stroke-width="1.1" stroke-linejoin="round"/>
<path d="M248.05,785.70 L250.29,783.90 L250.29,792.10" fill="none" stroke="#000" stroke-width="1.1" stroke-linejoin="round"/>
<path d="M258.15,783.90 C255.35,783.90 254.65,785.95 254.65,788.00 C254.65,790.05 255.35,792.10 258.15,792.10 C260.95,792.10 261.65,790.05 261.65,788.00 C261.65,785.95 260.95,783.90 258.15,783.90 Z" fill="none" stroke="#000" stroke-width="1.1" stroke-linejoin="round"/>
<path d="M266.85,783.90 C264.05,783.90 263.35,785.95 263.35,788.00 C263.35,790.05 264.05,792.10 266.85,792.10 C269.65,792.10 270.35,790.05 270.35,788.00 C270.35,785.95 269.65,783.90 266.85,783.90 Z" fill="none" stroke="#000" stroke-width="1.1" stroke-linejoin="round"/>
<path d="M275.55,783.90 C272.75,783.90 272.05,785.95 272.05,788.00 C272.05,790.05 272.75,792.10 275.55,792.10 C278.35,792.10 279.05,790.05 279.05,788.00 C279.05,785.95 278.35,783.90 275.55,783.90 Z" fill="none" stroke="#000" stroke-width="1.1" stroke-linejoin="round"/>
<path d="M348.15,785.70 L350.39,783.90 L350.39,792.10" fill="none" stroke="#000" stroke-width="1.1" stroke-linejoin="round"/>
<path d="M361.26,783.90 L355.45,783.90 L355.10,787.51 C356.85,786.36 361.75,786.36 361.75,789.48 C361.75,792.59 356.15,792.59 354.75,790.71" fill="none" stroke="#000" stroke-width="1.1" stroke-linejoin="round"/>
<path d="M366.95,783.90 C364.15,783.90 363.45,785.95 363.45,788.00 C363.45,790.05 364.15,792.10 366.95,792.10 C369.75,792.10 370.45,790.05 370.45,788.00 C370.45,785.95 369.75,783.90 366.95,783.90 Z" fill="none" stroke="#000" stroke-width="1.1" stroke-linejoin="round"/>
<path d="M375.65,783.90 C372.85,783.90 372.15,785.95 372.15,788.00 C372.15,790.05 372.85,792.10 375.65,792.10 C378.45,792.10 379.15,790.05 379.15,788.00 C379.15,785.95 378.45,783.90 375.65,783.90 Z" fill="none" stroke="#000" stroke-width="1.1" stroke-linejoin="round"/>
<path d="M485.83,783.90 L480.02,783.90 L479.67,787.51 C481.42,786.36 486.32,786.36 486.32,789.48 C486.32,792.59 480.72,792.59 479.32,790.71" fill="none" stroke="#000" stroke-width="1.1" stroke-linejoin="round"/>
<path d="M491.52,783.90 C488.72,783.90 488.02,785.95 488.02,788.00 C488.02,790.05 488.72,792.10 491.52,792.10 C494.32,792.10 495.02,790.05 495.02,788.00 C495.02,785.95 494.32,783.90 491.52,783.90 Z" fill="none" stroke="#000" stroke-width="1.1" stroke-linejoin="round"/>
<path d="M500.22,783.90 C497.42,783.90 496.72,785.95 496.72,788.00 C496.72,790.05 497.42,792.10 500.22,792.10 C503.02,792.10 503.72,790.05 503.72,788.00 C503.72,785.95 503.02,783.90 500.22,783.90 Z" fill="none" stroke="#000" stroke-width="1.1" stroke-linejoin="round"/>
<path d="M535.96,785.70 L538.20,783.90 L538.20,792.10" fill="none" stroke="#000" stroke-width="1.1" stroke-linejoin="round"/>
<path d="M546.06,783.90 C543.26,783.90 542.56,785.95 542.56,788.00 C542.56,790.05 543.26,792.10 546.06,792.10 C548.86,792.10 549.56,790.05 549.56,788.00 C549.56,785.95 548.86,783.90 546.06,783.90 Z" fill="none" stroke="#000" stroke-width="1.1" stroke-linejoin="round"/>
<path d="M554.76,783.90 C551.96,783.90 551.26,785.95 551.26,788.00 C551.26,790.05 551.96,792.10 554.76,792.10 C557.56,792.10 558.26,790.05 558.26,788.00 C558.26,785.95 557.56,783.90 554.76,783.90 Z" fill="none" stroke="#000" stroke-width="1.1" stroke-linejoin="round"/>
<path d="M563.46,783.90 C560.66,783.90 559.96,785.95 559.96,788.00 C559.96,790.05 560.66,792.10 563.46,792.10 C566.26,792.10 566.96,790.05 566.96,788.00 C566.96,785.95 566.26,783.90 563.46,783.90 Z" fill="none" stroke="#000" stroke-width="1.1" stroke-linejoin="round"/>
<path d="M594.86,785.70 L597.10,783.90 L597.10,792.10" fill="none" stroke="#000" stroke-width="1.1" stroke-linejoin="round"/>
<path d="M607.97,783.90 L602.16,783.90 L601.81,787.51 C603.56,786.36 608.46,786.36 608.46,789.48 C608.46,792.59 602.86,792.59 601.46,790.71" fill="none" stroke="#000" stroke-width="1.1" stroke-linejoin="round"/>
<path d="M613.66,783.90 C610.86,783.90 610.16,785.95 610.16,788.00 C610.16,790.05 610.86,792.10 613.66,792.10 C616.46,792.10 617.16,790.05 617.16,788.00 C617.16,785.95 616.46,783.90 613.66,783.90 Z" fill="none" stroke="#000" stroke-width="1.1" stroke-linejoin="round"/>
<path d="M622.36,783.90 C619.56,783.90 618.86,785.95 618.86,788.00 C618.86,790.05 619.56,792.10 622.36,792.10 C625.16,792.10 625.86,790.05 625.86,788.00 C625.86,785.95 625.16,783.90 622.36,783.90 Z" fill="none" stroke="#000" stroke-width="1.1" stroke-linejoin="round"/>
<path d="M651.79,785.95 C652.00,783.49 658.51,783.24 658.51,786.11 C658.51,788.41 651.65,788.98 651.65,792.10 L658.65,792.10" fill="none" stroke="#000" stroke-width="1.1" stroke-linejoin="round"/>
<path d="M663.85,783.90 C661.05,783.90 660.35,785.95 660.35,788.00 C660.35,790.05 661.05,792.10 663.85,792.10 C666.65,792.10 667.35,790.05 667.35,788.00 C667.35,785.95 666.65,783.90 663.85,783.90 Z" fill="none" stroke="#000" stroke-width="1.1" stroke-linejoin="round"/>
<path d="M672.55,783.90 C669.75,783.90 669.05,785.95 669.05,788.00 C669.05,790.05 669.75,792.10 672.55,792.10 C675.35,792.10 676.05,790.05 676.05,788.00 C676.05,785.95 675.35,783.90 672.55,783.90 Z" fill="none" stroke="#000" stroke-width="1.1" stroke-linejoin="round"/>
<path d="M681.25,783.90 C678.45,783.90 677.75,785.95 677.75,788.00 C677.75,790.05 678.45,792.10 681.25,792.10 C684.05,792.10 684.75,790.05 684.75,788.00 C684.75,785.95 684.05,783.90 681.25,783.90 Z" fill="none" stroke="#000" stroke-width="1.1" stroke-linejoin="round"/>
<path d="M710.69,785.95 C710.90,783.49 717.41,783.24 717.41,786.11 C717.41,788.41 710.55,788.98 710.55,792.10 L717.55,792.10" fill="none" stroke="#000" stroke-width="1.1" stroke-linejoin="round"/>
<path d="M725.76,783.90 L719.95,783.90 L719.60,787.51 C721.35,786.36 726.25,786.36 726.25,789.48 C726.25,792.59 720.65,792.59 719.25,790.71" fill="none" stroke="#000" stroke-width="1.1" stroke-linejoin="round"/>
<path d="M731.45,783.90 C728.65,783.90 727.95,785.95 727.95,788.00 C727.95,790.05 728.65,792.10 731.45,792.10 C734.25,792.10 734.95,790.05 734.95,788.00 C734.95,785.95 734.25,783.90 731.45,783.90 Z" fill="none" stroke="#000" stroke-width="1.1" stroke-linejoin="round"/>
<path d="M740.15,783.90 C737.35,783.90 736.65,785.95 736.65,788.00 C736.65,790.05 737.35,792.10 740.15,792.10 C742.95,792.10 743.65,790.05 743.65,788.00 C743.65,785.95 742.95,783.90 740.15,783.90 Z" fill="none" stroke="#000" stroke-width="1.1" stroke-linejoin="round"/>
<text x="296.80" y="812.40" font-size="14.5" textLength="12.50" lengthAdjust="spacingAndGlyphs" stroke-width="0.15">M</text>
<text x="310.00" y="814.80" font-size="8" textLength="4.00" lengthAdjust="spacingAndGlyphs" stroke="none">ν</text>
<text x="315.50" y="812.40" font-size="14.5" textLength="46.80" lengthAdjust="spacingAndGlyphs" stroke-width="0.15">(GeV)</text>
<text x="660.40" y="812.40" font-size="14.5" textLength="12.50" lengthAdjust="spacingAndGlyphs" stroke-width="0.15">M</text>
<text x="673.60" y="814.80" font-size="8" textLength="4.00" lengthAdjust="spacingAndGlyphs" stroke="none">ν</text>
<text x="679.10" y="812.40" font-size="14.5" textLength="46.80" lengthAdjust="spacingAndGlyphs" stroke-width="0.15">(GeV)</text>
<text x="263.80" y="583.00" font-size="15.6" textLength="12.60" lengthAdjust="spacingAndGlyphs">M</text>
<text x="276.80" y="587.00" font-size="10" textLength="11.00" lengthAdjust="spacingAndGlyphs" stroke="none">Zp</text>
<text x="288.40" y="583.00" font-size="15.6" textLength="12.90" lengthAdjust="spacingAndGlyphs">=</text>
<text x="303.40" y="583.00" font-size="15.6">1</text>
<text x="313.80" y="583.00" font-size="15.6" textLength="30.80" lengthAdjust="spacingAndGlyphs">TeV</text>
<text x="634.20" y="583.00" font-size="15.6" textLength="12.60" lengthAdjust="spacingAndGlyphs">M</text>
<text x="647.20" y="587.00" font-size="10" textLength="11.00" lengthAdjust="spacingAndGlyphs" stroke="none">Zp</text>
<text x="658.80" y="583.00" font-size="15.6" textLength="12.90" lengthAdjust="spacingAndGlyphs">=</text>
<text x="673.80" y="583.00" font-size="15.6" textLength="10.00" lengthAdjust="spacingAndGlyphs">3</text>
<text x="684.20" y="583.00" font-size="15.6" textLength="30.80" lengthAdjust="spacingAndGlyphs">TeV</text>
</g>
</svg>
</body></html>
